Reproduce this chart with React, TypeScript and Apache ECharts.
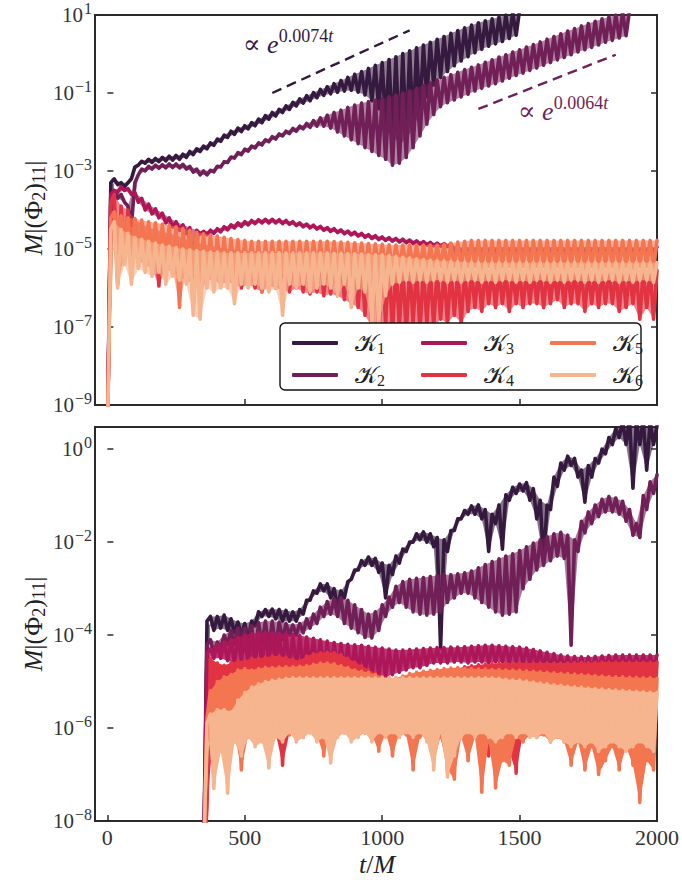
import React, { useEffect, useRef } from "react";
import * as echarts from "echarts";

const COLORS = ["#35193e", "#701f57", "#ad1759", "#e13342", "#f37651", "#f6b48f"];
const NAMES = ["𝒦1", "𝒦2", "𝒦3", "𝒦4", "𝒦5", "𝒦6"];

// Envelopes in log10 units: a crest every STEP (t/M), the following trough half a step later.
const STEP = 25;
const TOP_START = 0;
const BOTTOM_START = 350;

// ---------- upper panel ----------
const K1_TOP_HI = [
  -10, -3.2, -3.3, -3.3, -2.9, -2.75, -2.7, -2.68, -2.65, -2.62,
  -2.6, -2.57, -2.5, -2.43, -2.36, -2.28, -2.18, -2.08, -1.98, -1.9,
  -1.84, -1.76, -1.67, -1.58, -1.5, -1.42, -1.33, -1.24, -1.15, -1.07,
  -0.99, -0.91, -0.84, -0.76, -0.68, -0.6, -0.52, -0.45, -0.37, -0.29,
  -0.22, -0.14, -0.07, 0.01, 0.08, 0.16, 0.23, 0.3, 0.38, 0.45,
  0.53, 0.6, 0.67, 0.74, 0.8, 0.85, 0.9, 0.95, 1.0, 1.06, 1.13,
];
const K1_TOP_LO = [
  -3.3, -3.35, -3.4, -3.2, -2.85, -2.8, -2.78, -2.76, -2.74, -2.72,
  -2.7, -2.65, -2.58, -2.5, -2.43, -2.34, -2.24, -2.14, -2.06, -1.99,
  -1.92, -1.84, -1.76, -1.67, -1.59, -1.5, -1.42, -1.33, -1.26, -1.2,
  -1.12, -1.06, -1.02, -0.98, -0.95, -0.93, -0.98, -1.05, -1.2, -1.4,
  -1.8, -2.1, -2.3, -2.2, -1.9, -1.5, -1.1, -0.8, -0.6, -0.45,
  -0.3, -0.18, -0.07, 0.03, 0.12, 0.2, 0.26, 0.32, 0.4, 0.48,
];
const K2_TOP_HI = [
  -10, -3.5, -3.6, -3.9, -3.3, -2.95, -2.88, -2.85, -2.84, -2.82,
  -2.82, -2.83, -2.88, -2.95, -3.0, -2.98, -2.88, -2.76, -2.64, -2.53,
  -2.44, -2.36, -2.28, -2.2, -2.12, -2.05, -1.98, -1.91, -1.85, -1.78,
  -1.71, -1.64, -1.57, -1.5, -1.44, -1.37, -1.31, -1.26, -1.22, -1.19,
  -1.15, -1.1, -1.05, -1.0, -0.95, -0.88, -0.81, -0.74, -0.67, -0.6,
  -0.53, -0.47, -0.4, -0.34, -0.28, -0.21, -0.15, -0.08, -0.02, 0.05,
  0.11, 0.18, 0.24, 0.31, 0.38, 0.45, 0.52, 0.59, 0.65, 0.72,
  0.78, 0.84, 0.9, 0.95, 1.0, 1.06, 1.12,
];
const K2_TOP_LO = [
  -3.6, -3.7, -3.8, -4.4, -3.1, -3.0, -2.95, -2.93, -2.92, -2.91,
  -2.92, -2.95, -3.03, -3.1, -3.1, -3.02, -2.9, -2.78, -2.67, -2.58,
  -2.49, -2.41, -2.33, -2.25, -2.18, -2.1, -2.04, -1.98, -1.92, -1.88,
  -1.85, -1.85, -1.9, -2.0, -2.1, -2.2, -2.3, -2.4, -2.5, -2.6,
  -2.7, -2.85, -2.8, -2.65, -2.4, -2.1, -1.8, -1.55, -1.35, -1.25,
  -1.18, -1.1, -1.03, -0.95, -0.88, -0.82, -0.76, -0.69, -0.62, -0.55,
  -0.49, -0.42, -0.36, -0.29, -0.22, -0.15, -0.09, -0.02, 0.05, 0.11,
  0.17, 0.23, 0.3, 0.35, 0.41, 0.47,
];
const K3_TOP_HI = [
  -10, -3.5, -3.4, -3.45, -3.55, -3.7, -3.85, -3.97, -4.08, -4.2,
  -4.3, -4.38, -4.45, -4.52, -4.55, -4.52, -4.48, -4.43, -4.38, -4.33,
  -4.3, -4.27, -4.25, -4.24, -4.24, -4.25, -4.27, -4.3, -4.33, -4.36,
  -4.39, -4.42, -4.45, -4.48, -4.51, -4.54, -4.57, -4.6, -4.63, -4.66,
  -4.69, -4.71, -4.73, -4.75, -4.77, -4.79, -4.81, -4.83, -4.85, -4.86,
  -4.87, -4.95, -4.95, -4.95, -4.95, -4.95, -4.95, -4.95, -4.95, -4.95,
  -4.95, -4.95, -4.95, -4.95, -4.95, -4.95, -4.95, -4.95, -4.95, -4.95,
  -4.95, -4.95, -4.95, -4.95, -4.95, -4.95, -4.95, -4.95, -4.95, -4.95,
  -4.95,
];
const K3_TOP_LO = [
  -3.6, -3.55, -3.5, -3.6, -3.8, -4.0, -4.1, -4.2, -4.33, -4.43,
  -4.52, -4.6, -6.4, -4.62, -4.63, -4.6, -4.56, -4.51, -4.46, -4.42,
  -4.38, -4.35, -4.33, -4.33, -4.33, -4.35, -4.37, -4.4, -4.43, -4.46,
  -4.49, -4.52, -4.55, -4.58, -4.61, -4.64, -4.67, -4.7, -4.73, -4.76,
  -4.78, -4.8, -4.82, -4.84, -4.86, -4.88, -4.9, -4.92, -4.93, -4.94,
  -5.1, -5.1, -5.1, -5.1, -5.1, -5.1, -5.1, -5.1, -5.1, -5.1,
  -5.1, -5.1, -5.1, -5.1, -5.1, -5.1, -5.1, -5.1, -5.1, -5.1,
  -5.1, -5.1, -5.1, -5.1, -5.1, -5.1, -5.1, -5.1, -5.1, -5.1,
];
const K4_TOP_HI = [
  -10, -3.6, -3.9, -4.0, -4.25, -4.35, -4.45, -4.5, -4.55, -4.6,
  -4.65, -4.72, -4.78, -4.84, -4.88, -4.92, -4.95, -4.98, -5.0, -5.02,
  -5.04, -5.05, -5.06, -5.07, -5.08, -5.09, -5.1, -5.11, -5.12, -5.13,
  -5.14, -5.15, -5.16, -5.17, -5.18, -5.19, -5.2, -5.22, -5.25, -5.28,
  -5.3, -5.33, -5.36, -5.4, -5.43, -5.46, -5.5, -5.52, -5.54, -5.55,
  -5.55, -5.55, -5.55, -5.55, -5.55, -5.55, -5.55, -5.55, -5.55, -5.55,
  -5.55, -5.55, -5.55, -5.55, -5.55, -5.55, -5.55, -5.55, -5.55, -5.55,
  -5.55, -5.55, -5.55, -5.55, -5.55, -5.55, -5.55, -5.55, -5.55, -5.55,
  -5.55,
];
const K4_TOP_LO = [
  -3.8, -5.9, -5.2, -5.0, -5.3, -5.4, -5.5, -5.95, -5.5, -5.6,
  -5.7, -5.8, -5.9, -6.15, -5.8, -5.8, -5.9, -5.85, -5.9, -6.0,
  -5.9, -6.0, -6.1, -5.95, -6.0, -6.05, -6.1, -6.0, -6.1, -6.15,
  -6.1, -6.2, -6.15, -6.2, -6.3, -6.4, -6.5, -6.7, -7.0, -7.2,
  -6.9, -7.2, -7.0, -7.2, -6.9, -7.1, -6.9, -7.0, -6.8, -6.9,
  -6.7, -6.9, -6.6, -6.5, -6.6, -6.4, -6.5, -6.4, -6.6, -6.4,
  -6.5, -6.4, -6.4, -6.5, -6.4, -6.3, -6.5, -6.4, -6.4, -6.6,
  -6.4, -6.5, -6.4, -6.4, -6.6, -6.5, -6.4, -6.8, -6.5, -6.8,
];
const K5_TOP_HI = [
  -10, -4.05, -4.15, -4.2, -4.22, -4.26, -4.3, -4.33, -4.36, -4.4,
  -4.43, -4.47, -4.52, -4.57, -4.61, -4.64, -4.67, -4.7, -4.73, -4.76,
  -4.78, -4.8, -4.8, -4.8, -4.8, -4.8, -4.8, -4.8, -4.8, -4.8,
  -4.8, -4.8, -4.8, -4.81, -4.82, -4.83, -4.84, -4.85, -4.86, -4.87,
  -4.88, -4.89, -4.9, -4.9, -4.9, -4.9, -4.9, -4.9, -4.9, -4.88,
  -4.85, -4.82, -4.8, -4.78, -4.78, -4.78, -4.78, -4.78, -4.78, -4.78,
  -4.78, -4.78, -4.78, -4.78, -4.78, -4.78, -4.78, -4.78, -4.78, -4.78,
  -4.78, -4.78, -4.78, -4.78, -4.78, -4.78, -4.78, -4.78, -4.78, -4.78,
  -4.78,
];
const K5_TOP_LO = [
  -4.2, -5.0, -4.9, -5.2, -5.0, -5.1, -5.2, -5.4, -5.3, -5.5,
  -6.5, -5.5, -5.6, -5.7, -5.6, -5.7, -5.6, -5.7, -5.6, -5.7,
  -5.6, -5.65, -6.1, -5.6, -5.7, -5.6, -5.65, -5.6, -5.6, -5.65,
  -5.55, -5.6, -5.55, -5.6, -5.5, -5.55, -5.5, -5.5, -5.5, -5.45,
  -5.45, -5.5, -5.45, -5.45, -5.5, -5.45, -5.5, -5.45, -5.45, -5.5,
  -5.45, -5.5, -5.45, -5.45, -5.5, -5.45, -5.5, -5.45, -5.45, -5.5,
  -5.45, -5.5, -5.45, -5.45, -5.5, -5.45, -5.5, -5.45, -5.45, -5.5,
  -5.45, -5.5, -5.45, -5.45, -5.5, -5.45, -5.5, -5.45, -5.45, -5.5,
];
const K6_TOP_HI = [
  -10, -4.3, -4.5, -4.6, -4.7, -4.75, -4.8, -4.85, -4.9, -4.93,
  -4.96, -5.0, -5.02, -5.04, -5.06, -5.08, -5.08, -5.1, -5.1, -5.1,
  -5.1, -5.1, -5.1, -5.1, -5.1, -5.1, -5.1, -5.1, -5.1, -5.1,
  -5.1, -5.1, -5.1, -5.11, -5.11, -5.12, -5.12, -5.13, -5.14, -5.15,
  -5.15, -5.17, -5.19, -5.21, -5.23, -5.25, -5.27, -5.29, -5.3, -5.31,
  -5.32, -5.33, -5.34, -5.35, -5.35, -5.35, -5.35, -5.35, -5.35, -5.35,
  -5.35, -5.35, -5.35, -5.35, -5.35, -5.35, -5.35, -5.35, -5.35, -5.35,
  -5.35, -5.35, -5.35, -5.35, -5.35, -5.35, -5.35, -5.35, -5.35, -5.35,
  -5.35,
];
const K6_TOP_LO = [
  -4.5, -6.0, -5.4, -5.9, -5.5, -5.6, -5.7, -5.6, -5.9, -5.7,
  -5.8, -5.9, -6.7, -6.8, -6.0, -6.1, -6.0, -6.0, -6.4, -5.9,
  -6.0, -5.9, -6.0, -6.1, -6.0, -6.7, -5.9, -6.0, -5.9, -6.1,
  -6.0, -5.9, -6.0, -6.2, -5.9, -6.5, -6.0, -6.1, -6.9, -6.9,
  -6.2, -5.9, -5.85, -5.8, -5.85, -5.8, -5.85, -5.8, -5.8, -5.85,
  -5.8, -5.85, -5.8, -5.8, -5.85, -5.8, -5.85, -5.8, -5.8, -5.85,
  -5.8, -5.85, -5.8, -5.8, -5.85, -5.8, -5.85, -5.8, -5.8, -5.85,
  -5.8, -5.85, -5.8, -5.8, -5.85, -5.8, -5.85, -5.8, -5.8, -5.85,
];

// ---------- lower panel ----------
const K1_BOT_HI = [
  -9, -3.6, -3.6, -3.57, -3.65, -3.72, -3.75, -3.7, -3.5, -3.45,
  -3.44, -3.45, -3.47, -3.5, -3.45, -3.25, -3.05, -2.9, -2.9, -3.0,
  -3.05, -2.85, -2.6, -2.4, -2.32, -2.35, -2.45, -2.5, -2.3, -2.15,
  -2.0, -1.82, -1.78, -1.82, -1.9, -1.95, -1.75, -1.5, -1.32, -1.22,
  -1.2, -1.3, -1.4, -1.2, -0.98, -0.82, -0.75, -0.72, -0.85, -1.1,
  -1.2, -0.6, -0.3, -0.15, -0.2, -0.45, -0.35, -0.2, 0.0, 0.25,
  0.45, 0.6, 0.65, 0.6, 0.65, 0.6, 0.5,
];
const K1_BOT_LO = [
  -3.7, -3.9, -3.85, -3.9, -3.95, -4.0, -4.15, -3.8, -3.6, -3.6,
  -3.65, -3.7, -3.7, -3.7, -3.55, -3.25, -3.1, -3.05, -3.2, -3.42,
  -3.2, -2.8, -2.6, -2.5, -2.5, -2.65, -3.2, -2.7, -2.45, -2.2,
  -2.0, -1.95, -2.0, -2.1, -4.28, -2.2, -1.75, -1.5, -1.4, -1.4,
  -1.5, -2.2, -1.6, -2.15, -1.1, -0.95, -0.9, -1.1, -1.5, -2.43,
  -1.3, -0.8, -0.45, -0.35, -0.6, -1.14, -0.6, -0.3, -0.1, 0.1,
  0.25, 0.1, -0.84, 0.1, -0.45, 0.1,
];
const K2_BOT_HI = [
  -9, -4.1, -4.15, -4.0, -3.9, -3.85, -3.85, -3.8, -3.73, -3.7,
  -3.7, -3.72, -3.75, -3.78, -3.75, -3.65, -3.55, -3.4, -3.28, -3.22,
  -3.2, -3.25, -3.35, -3.45, -3.55, -3.5, -3.35, -3.18, -2.95, -2.85,
  -2.8, -2.78, -2.76, -2.74, -2.72, -2.7, -2.7, -2.68, -2.66, -2.62,
  -2.55, -2.48, -2.42, -2.36, -2.3, -2.25, -2.18, -2.1, -2.02, -1.95,
  -1.88, -1.82, -1.79, -1.85, -1.95, -1.55, -1.35, -1.2, -1.08, -1.02,
  -1.05, -1.12, -1.3, -1.6, -1.0, -0.7, -0.55,
];
const K2_BOT_LO = [
  -4.2, -4.4, -4.3, -4.2, -4.2, -4.3, -4.5, -4.58, -4.2, -4.3,
  -4.3, -4.1, -4.0, -4.0, -3.95, -3.85, -3.75, -3.6, -3.55, -3.6,
  -3.75, -3.85, -3.95, -4.05, -4.06, -3.9, -3.6, -3.4, -3.3, -3.4,
  -3.5, -3.55, -3.57, -3.55, -3.5, -3.3, -3.2, -3.1, -3.1, -3.2,
  -3.3, -3.4, -3.5, -3.57, -3.55, -3.5, -3.0, -2.8, -2.6, -2.5,
  -2.4, -2.3, -2.35, -4.22, -2.2, -1.8, -1.6, -1.45, -1.35, -1.35,
  -1.4, -1.55, -1.85, -1.9, -1.3, -0.95,
];
const K3_BOT_HI = [
  -9, -4.3, -4.2, -4.15, -4.1, -4.05, -4.0, -3.97, -3.95, -3.94,
  -3.95, -3.96, -3.97, -3.99, -4.01, -4.04, -4.07, -4.1, -4.13, -4.16,
  -4.18, -4.2, -4.21, -4.22, -4.24, -4.26, -4.28, -4.3, -4.32, -4.32,
  -4.31, -4.3, -4.29, -4.28, -4.27, -4.27, -4.26, -4.26, -4.25, -4.24,
  -4.23, -4.22, -4.22, -4.23, -4.24, -4.25, -4.26, -4.28, -4.31, -4.34,
  -4.37, -4.4, -4.43, -4.45, -4.46, -4.47, -4.47, -4.46, -4.45, -4.44,
  -4.43, -4.43, -4.43, -4.43, -4.43, -4.43, -4.43,
];
const K3_BOT_LO = [
  -4.4, -4.5, -4.5, -4.55, -4.6, -4.55, -4.6, -4.6, -4.65, -4.6,
  -4.7, -4.65, -4.7, -4.7, -4.75, -4.7, -4.75, -4.8, -4.75, -4.8,
  -4.8, -4.85, -4.8, -4.85, -4.9, -4.85, -4.9, -4.85, -4.8, -4.75,
  -4.7, -4.7, -4.65, -4.6, -4.6, -4.6, -4.58, -4.58, -4.6, -4.58,
  -4.58, -4.6, -4.58, -4.58, -4.6, -4.58, -4.6, -4.62, -4.65, -4.68,
  -4.7, -4.72, -4.74, -4.75, -4.76, -4.76, -4.75, -4.74, -4.72, -4.72,
  -4.72, -4.72, -4.72, -4.72, -4.72, -4.72,
];
const K4_BOT_HI = [
  -9, -4.5, -4.6, -4.65, -4.6, -4.55, -4.55, -4.5, -4.5, -4.48,
  -4.45, -4.45, -4.48, -4.52, -4.55, -4.45, -4.4, -4.38, -4.37, -4.38,
  -4.42, -4.5, -4.58, -4.66, -4.74, -4.82, -4.88, -4.92, -4.95, -4.97,
  -4.97, -4.95, -4.92, -4.88, -4.85, -4.8, -4.76, -4.72, -4.68, -4.66,
  -4.64, -4.63, -4.62, -4.61, -4.6, -4.6, -4.6, -4.6, -4.6, -4.6,
  -4.6, -4.6, -4.6, -4.6, -4.59, -4.59, -4.59, -4.59, -4.58, -4.58,
  -4.58, -4.58, -4.58, -4.58, -4.58, -4.58, -4.58,
];
const K4_BOT_LO = [
  -7.7, -6.0, -6.5, -6.1, -6.1, -6.1, -6.0, -6.1, -6.0, -6.1,
  -6.1, -6.8, -6.1, -6.0, -6.1, -6.0, -6.1, -6.1, -6.0, -6.1,
  -6.1, -6.0, -6.1, -6.1, -6.2, -6.1, -6.1, -6.0, -6.1, -6.1,
  -6.1, -6.1, -6.0, -6.1, -6.2, -6.8, -6.1, -6.0, -6.1, -6.1,
  -6.2, -6.6, -6.1, -6.0, -6.5, -6.97, -6.1, -6.0, -6.1, -6.1,
  -6.1, -6.0, -6.1, -6.1, -6.2, -6.86, -6.1, -6.0, -6.1, -6.1,
  -6.1, -6.0, -6.2, -6.1, -6.0, -6.1,
];
const K5_BOT_HI = [
  -9, -5.2, -5.0, -4.9, -4.85, -4.75, -4.72, -4.75, -4.72, -4.7,
  -4.7, -4.69, -4.68, -4.68, -4.67, -4.66, -4.63, -4.6, -4.6, -4.62,
  -4.66, -4.7, -4.75, -4.78, -4.8, -4.85, -4.9, -4.93, -4.92, -4.88,
  -4.83, -4.8, -4.78, -4.76, -4.74, -4.72, -4.71, -4.7, -4.72, -4.72,
  -4.73, -4.73, -4.74, -4.74, -4.75, -4.75, -4.76, -4.77, -4.78, -4.79,
  -4.8, -4.81, -4.82, -4.83, -4.84, -4.85, -4.86, -4.87, -4.88, -4.89,
  -4.9, -4.9, -4.91, -4.91, -4.92, -4.92, -4.93,
];
const K5_BOT_LO = [
  -5.8, -7.1, -6.2, -6.8, -6.1, -6.9, -6.15, -6.1, -6.2, -6.1,
  -6.2, -6.1, -6.15, -6.1, -6.2, -6.1, -6.15, -6.6, -6.1, -6.15,
  -6.1, -6.2, -6.15, -6.1, -6.15, -6.5, -6.1, -6.6, -6.1, -6.15,
  -6.9, -6.2, -6.15, -6.7, -6.2, -6.9, -7.1, -6.2, -6.7, -6.2,
  -7.38, -6.3, -7.29, -6.7, -6.8, -6.2, -6.3, -6.15, -6.2, -6.15,
  -6.3, -6.2, -6.3, -6.8, -6.3, -6.9, -6.4, -7.0, -6.7, -6.4,
  -6.9, -6.4, -6.8, -7.6, -6.7, -6.9,
];
const K6_BOT_HI = [
  -9, -5.7, -5.6, -5.6, -5.65, -5.4, -5.23, -5.12, -5.05, -5.0,
  -4.97, -4.95, -4.93, -4.92, -4.92, -4.92, -4.92, -4.92, -4.92, -4.92,
  -4.92, -4.92, -4.92, -4.92, -4.92, -4.92, -4.92, -4.92, -4.92, -4.92,
  -4.92, -4.92, -4.92, -4.92, -4.92, -4.92, -4.92, -4.92, -4.92, -4.92,
  -4.92, -4.92, -4.92, -4.93, -4.95, -4.96, -4.97, -4.99, -5.01, -5.03,
  -5.05, -5.07, -5.08, -5.1, -5.11, -5.12, -5.14, -5.15, -5.16, -5.17,
  -5.18, -5.19, -5.2, -5.21, -5.22, -5.23, -5.23,
];
const K6_BOT_LO = [
  -5.9, -7.3, -6.5, -7.4, -6.3, -6.6, -6.2, -6.4, -6.3, -6.86,
  -6.2, -6.3, -6.1, -6.3, -6.2, -6.1, -6.3, -6.2, -6.75, -6.2,
  -6.1, -6.3, -6.2, -6.1, -6.3, -6.1, -6.2, -6.1, -6.2, -6.1,
  -6.2, -6.1, -6.3, -6.9, -6.1, -7.05, -6.6, -6.2, -6.1, -6.2,
  -6.1, -6.2, -6.3, -6.2, -6.1, -6.2, -6.1, -6.2, -6.2, -6.1,
  -6.3, -6.2, -6.3, -6.4, -6.3, -6.4, -6.3, -6.5, -6.4, -6.3,
  -6.4, -6.5, -6.4, -6.3, -6.4, -6.5,
];

const TOP_HI = [K1_TOP_HI, K2_TOP_HI, K3_TOP_HI, K4_TOP_HI, K5_TOP_HI, K6_TOP_HI];
const TOP_LO = [K1_TOP_LO, K2_TOP_LO, K3_TOP_LO, K4_TOP_LO, K5_TOP_LO, K6_TOP_LO];
const BOT_HI = [K1_BOT_HI, K2_BOT_HI, K3_BOT_HI, K4_BOT_HI, K5_BOT_HI, K6_BOT_HI];
const BOT_LO = [K1_BOT_LO, K2_BOT_LO, K3_BOT_LO, K4_BOT_LO, K5_BOT_LO, K6_BOT_LO];

// how densely the fast oscillation fills each band (upper / lower panel)
const TOP_BAND_OPACITY = [0.55, 0.55, 0.6, 0.6, 0.6, 0.6];
const BOT_BAND_OPACITY = [0.6, 0.6, 0.85, 1, 1, 1];

const X_TICKS = [0, 500, 1000, 1500, 2000];
const TOP_Y_TICKS = [1e-9, 1e-7, 1e-5, 1e-3, 1e-1, 1e1];
const BOT_Y_TICKS = [1e-8, 1e-6, 1e-4, 1e-2, 1e0];

// growth-rate guides quoted in the upper panel
const GROWTH = [
  { rate: 0.0074, t0: 600, t1: 1100, v0: 0.1, color: COLORS[0] },
  { rate: 0.0064, t0: 1350, t1: 1850, v0: 0.039, color: COLORS[1] },
];

const SERIF = "'Liberation Serif', 'DejaVu Serif', serif";
const INK = "#333333";
const FRAME = "#2b2b2b";
const LABEL_INK = "#222222";

// alternate crests and troughs into one polyline
function zigzag(start: number, hi: number[], lo: number[]): [number, number][] {
  const pts: [number, number][] = [];
  hi.forEach((h, i) => {
    pts.push([start + i * STEP, Math.pow(10, h)]);
    if (i < lo.length) pts.push([start + i * STEP + STEP / 2, Math.pow(10, lo[i])]);
  });
  return pts;
}

function powLabel(v: number): string {
  const e = Math.round(Math.log10(v));
  return `{b|10}{e|${e < 0 ? "−" + -e : e}}`;
}

const tickRich = {
  b: { fontSize: 21, fontFamily: SERIF, color: INK },
  e: { fontSize: 16, fontFamily: SERIF, color: INK, padding: [0, 0, 14, 1] },
};

const mathRich = {
  i: { fontSize: 26, fontFamily: SERIF, fontStyle: "italic", fill: LABEL_INK },
  r: { fontSize: 26, fontFamily: SERIF, fill: LABEL_INK },
  s: { fontSize: 18, fontFamily: SERIF, fill: LABEL_INK, padding: [12, 0, 0, 0] },
};

function legendLabel(name: string): string {
  const chars = Array.from(name);
  return `{k|${chars[0]}}{s|${chars.slice(1).join("")}}`;
}

function yAxes(gridIndex: number, min: number, max: number, ticks: number[]) {
  const tick = {
    inside: true,
    length: 6,
    customValues: ticks,
    lineStyle: { color: FRAME, width: 1.5 },
  };
  return [
    {
      type: "log",
      logBase: 10,
      gridIndex,
      min,
      max,
      position: "left",
      axisLine: { show: false },
      splitLine: { show: false },
      axisTick: tick,
      axisLabel: {
        customValues: ticks,
        formatter: powLabel,
        margin: 3,
        rich: tickRich,
      },
    },
    {
      type: "log",
      logBase: 10,
      gridIndex,
      min,
      max,
      position: "right",
      axisLine: { show: false },
      splitLine: { show: false },
      axisTick: tick,
      axisLabel: { show: false },
    },
  ];
}

function xAxis(gridIndex: number, labelled: boolean) {
  return {
    type: "value",
    gridIndex,
    min: -45,
    max: 2000,
    axisLine: { show: false },
    splitLine: { show: false },
    axisTick: {
      inside: true,
      length: 6,
      customValues: X_TICKS,
      lineStyle: { color: FRAME, width: 1.5 },
    },
    axisLabel: labelled
      ? {
          customValues: X_TICKS,
          formatter: (v: number) => String(v),
          fontSize: 22,
          fontFamily: SERIF,
          color: INK,
          margin: 5,
        }
      : { show: false },
  };
}

// filled region between the crest polyline and the trough polyline of one curve
function bandSeries(panel: number, k: number, data: [number, number][], opacity: number) {
  const color = COLORS[k];
  return {
    type: "custom",
    xAxisIndex: panel,
    yAxisIndex: panel * 2,
    data,
    encode: { x: 0, y: 1 },
    clip: true,
    silent: true,
    z: 10 + k,
    renderItem: (params: any, api: any) => {
      if (params.dataIndexInside !== 0) return null;
      const n = params.dataInsideLength;
      const upper: number[][] = [];
      const lower: number[][] = [];
      for (let j = 0; j < n; j++) {
        const p = api.coord([api.value(0, j), api.value(1, j)]);
        (j % 2 === 0 ? upper : lower).push(p);
      }
      return {
        type: "polygon",
        shape: { points: upper.concat(lower.reverse()) },
        style: { fill: color, opacity },
      };
    },
  };
}

function curveSeries(panel: number) {
  const hi = panel === 0 ? TOP_HI : BOT_HI;
  const lo = panel === 0 ? TOP_LO : BOT_LO;
  const start = panel === 0 ? TOP_START : BOTTOM_START;
  const opac = panel === 0 ? TOP_BAND_OPACITY : BOT_BAND_OPACITY;
  const out: any[] = [];
  NAMES.forEach((name, k) => {
    const data = zigzag(start, hi[k], lo[k]);
    out.push(bandSeries(panel, k, data, opac[k]));
    out.push({
      name,
      type: "line",
      xAxisIndex: panel,
      yAxisIndex: panel * 2,
      data,
      z: 10 + k,
      symbol: "none",
      showSymbol: false,
      clip: true,
      silent: true,
      emphasis: { disabled: true },
      itemStyle: { color: COLORS[k] },
      lineStyle: { color: COLORS[k], width: 3.6, cap: "round", join: "round" },
    });
  });
  return out;
}

function growthSeries() {
  return GROWTH.map((g) => ({
    type: "line",
    xAxisIndex: 0,
    yAxisIndex: 0,
    z: 20,
    data: [
      [g.t0, g.v0],
      [g.t1, g.v0 * Math.exp(g.rate * (g.t1 - g.t0))],
    ],
    symbol: "none",
    silent: true,
    emphasis: { disabled: true },
    lineStyle: { color: g.color, width: 2.4, type: [10, 6] },
  }));
}

function growthLabel(rate: number, x: number, y: number, color: string) {
  return {
    type: "text",
    x,
    y,
    z: 26,
    silent: true,
    style: {
      text: `{p|∝ }{i|e}{s|${rate}}{si|t}`,
      fill: color,
      rich: {
        p: { fontSize: 26, fontFamily: SERIF, fill: color },
        i: { fontSize: 26, fontFamily: SERIF, fontStyle: "italic", fill: color },
        s: { fontSize: 18, fontFamily: SERIF, fill: color, padding: [0, 0, 17, 0] },
        si: { fontSize: 18, fontFamily: SERIF, fontStyle: "italic", fill: color, padding: [0, 0, 17, 0] },
      },
    },
  };
}

function yName(y: number) {
  return {
    type: "text",
    x: 33,
    y,
    z: 26,
    rotation: Math.PI / 2,
    silent: true,
    style: {
      text: "{i|M}{r||(Φ}{s|2}{r|)}{s|11}{r||}",
      align: "center",
      verticalAlign: "middle",
      rich: mathRich,
    },
  };
}

export default function App() {
  const ref = useRef<HTMLDivElement>(null);

  useEffect(() => {
    document.body.style.margin = "0";
    if (!ref.current) return;
    const chart = echarts.init(ref.current, undefined, { renderer: "svg" });

    const legendCols = [287, 416, 545];
    const option = {
      animation: false,
      backgroundColor: "#ffffff",
      grid: [
        { left: 95, top: 11, width: 562, height: 394, show: true, borderColor: FRAME, borderWidth: 2 },
        { left: 95, top: 427, width: 562, height: 394, show: true, borderColor: FRAME, borderWidth: 2 },
      ],
      xAxis: [xAxis(0, false), xAxis(1, true)],
      yAxis: [...yAxes(0, 1e-9, 10, TOP_Y_TICKS), ...yAxes(1, 1e-8, 3, BOT_Y_TICKS)],
      legend: legendCols.map((left, c) => ({
        data: [NAMES[c * 2], NAMES[c * 2 + 1]],
        orient: "vertical",
        left,
        top: 326,
        itemWidth: 46,
        itemHeight: 4,
        itemGap: 7,
        icon: "roundRect",
        selectedMode: false,
        z: 30,
        formatter: legendLabel,
        textStyle: {
          color: LABEL_INK,
          rich: {
            k: { fontSize: 24, fontFamily: SERIF, color: LABEL_INK, padding: [0, 0, 0, 12] },
            s: { fontSize: 16, fontFamily: SERIF, color: LABEL_INK, padding: [10, 0, 0, 0] },
          },
        },
      })),
      graphic: {
        elements: [
          {
            type: "rect",
            z: 25,
            silent: true,
            shape: { x: 280, y: 323, width: 361, height: 67, r: 5 },
            style: { fill: "#ffffff", stroke: "#111111", lineWidth: 1.4 },
          },
          growthLabel(GROWTH[0].rate, 243, 27, GROWTH[0].color),
          growthLabel(GROWTH[1].rate, 518, 94, GROWTH[1].color),
          yName(208),
          yName(624),
          {
            type: "text",
            x: 377,
            y: 864,
            z: 26,
            silent: true,
            style: {
              text: "{i|t}{r|/}{i|M}",
              align: "center",
              verticalAlign: "middle",
              rich: mathRich,
            },
          },
        ],
      },
      series: [...curveSeries(0), ...growthSeries(), ...curveSeries(1)],
    };

    chart.setOption(option as any);
    return () => chart.dispose();
  }, []);

  return <div ref={ref} style={{ width: 682, height: 888 }} />;
}
